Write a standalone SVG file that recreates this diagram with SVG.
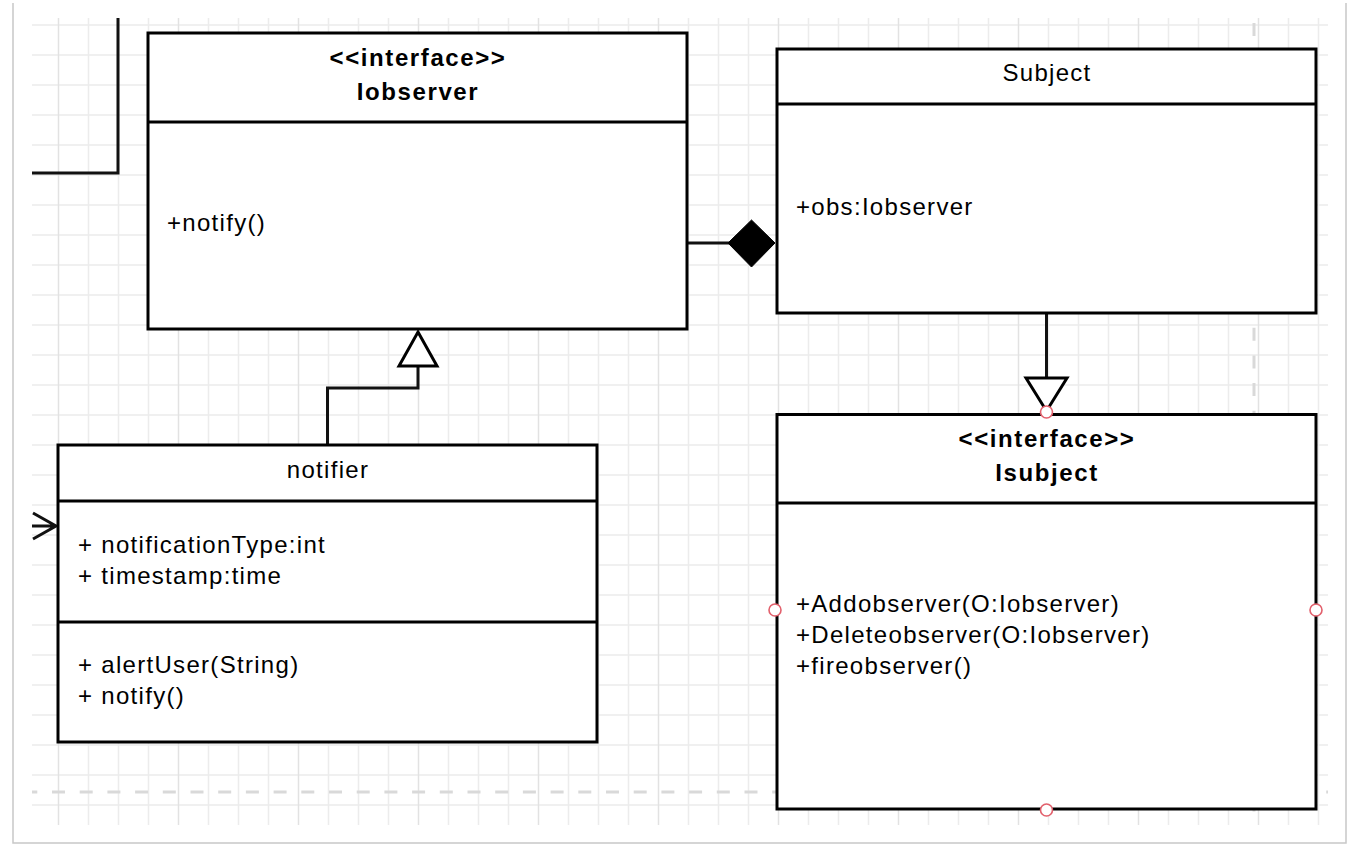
<svg xmlns="http://www.w3.org/2000/svg" width="1355" height="844" viewBox="0 0 1355 844">
  <style>
    .grid { stroke: #ececec; stroke-width: 1.5; fill: none; }
    .grid-major { stroke: #e2e2e2; stroke-width: 1.5; fill: none; }
    .guide { stroke: #d9d9d9; stroke-width: 3; fill: none; stroke-dasharray: 13 14.7; }
    .frame { stroke: #c8c8c8; stroke-width: 1.5; fill: none; }
    .box { fill: #ffffff; stroke: #000000; stroke-width: 3; }
    .sep { stroke: #000000; stroke-width: 3; }
    .edge { stroke: #111111; stroke-width: 3; fill: none; }
    .hollow { fill: #ffffff; stroke: #000000; stroke-width: 3; stroke-linejoin: miter; }
    .solid { fill: #000000; stroke: #000000; stroke-width: 1; }
    .port { fill: #ffffff; stroke: #e2606c; stroke-width: 1.6; }
    text { font-family: "Liberation Sans", Arial, sans-serif; font-size: 24px; fill: #000000; letter-spacing: 1.3px; }
    .title { font-weight: bold; letter-spacing: 1.6px; text-anchor: middle; }
    .name { text-anchor: middle; }
  </style>

  <rect x="0" y="0" width="1355" height="844" fill="#ffffff"/>

  <!-- page frame -->
  <path class="frame" d="M13 3 V843 H1346 V3"/>

  <!-- background grid -->
  <g id="grid">
    <path class="grid" d="M32 25 H1328 M32 55 H1328 M32 85 H1328 M32 115 H1328 M32 145 H1328 M32 175 H1328 M32 205 H1328 M32 235 H1328 M32 265 H1328 M32 295 H1328 M32 325 H1328 M32 355 H1328 M32 385 H1328 M32 415 H1328 M32 445 H1328 M32 475 H1328 M32 505 H1328 M32 535 H1328 M32 565 H1328 M32 595 H1328 M32 625 H1328 M32 655 H1328 M32 685 H1328 M32 715 H1328 M32 745 H1328 M32 775 H1328 M32 805 H1328"/>
    <path class="grid" d="M88.5 18 V825 M118.5 18 V825 M148.5 18 V825 M208.5 18 V825 M238.5 18 V825 M268.5 18 V825 M328.5 18 V825 M358.5 18 V825 M388.5 18 V825 M448.5 18 V825 M478.5 18 V825 M508.5 18 V825 M568.5 18 V825 M598.5 18 V825 M628.5 18 V825 M688.5 18 V825 M718.5 18 V825 M748.5 18 V825 M808.5 18 V825 M838.5 18 V825 M868.5 18 V825 M928.5 18 V825 M958.5 18 V825 M988.5 18 V825 M1048.5 18 V825 M1078.5 18 V825 M1108.5 18 V825 M1168.5 18 V825 M1198.5 18 V825 M1228.5 18 V825 M1288.5 18 V825 M1318.5 18 V825"/>
    <path class="grid-major" d="M58.5 18 V825 M178.5 18 V825 M298.5 18 V825 M418.5 18 V825 M538.5 18 V825 M658.5 18 V825 M778.5 18 V825 M898.5 18 V825 M1018.5 18 V825 M1138.5 18 V825 M1258.5 18 V825"/>
    <!-- page break guides -->
    <path class="guide" d="M1254 23 V825"/>
    <path class="guide" style="stroke-dashoffset:7.7" d="M32 792 H1328"/>
  </g>

  <!-- connectors -->
  <g id="connectors">
    <!-- incoming line at top left -->
    <path class="edge" d="M32 173 H118 V18"/>
    <!-- incoming association with open arrow into notifier -->
    <path class="edge" d="M32 526 H56 M33 513 L56 526 L33 539"/>
    <!-- composition: Subject owns Iobserver -->
    <path class="edge" d="M687 243 H729"/>
    <polygon class="solid" points="728,243 751.5,220 775,243 751.5,267"/>
    <!-- realization: notifier implements Iobserver -->
    <path class="edge" d="M327.5 445 V388 H418 V366"/>
    <polygon class="hollow" points="418,332 437,366 399,366"/>
    <!-- realization: Subject implements Isubject -->
    <path class="edge" d="M1046.5 313 V378"/>
    <polygon class="hollow" points="1026,378 1067,378 1046.5,411"/>
  </g>

  <!-- Iobserver interface -->
  <g id="iobserver">
    <rect class="box" x="148" y="33" width="539" height="296"/>
    <line class="sep" x1="148" y1="122" x2="687" y2="122"/>
    <text class="title" x="418" y="66">&lt;&lt;interface&gt;&gt;</text>
    <text class="title" x="418" y="100">Iobserver</text>
    <text x="167" y="231">+notify()</text>
  </g>

  <!-- Subject class -->
  <g id="subject">
    <rect class="box" x="777" y="49" width="539" height="264"/>
    <line class="sep" x1="777" y1="104" x2="1316" y2="104"/>
    <text class="name" x="1047" y="81">Subject</text>
    <text x="796" y="215">+obs:Iobserver</text>
  </g>

  <!-- notifier class -->
  <g id="notifier">
    <rect class="box" x="58" y="445" width="539" height="297"/>
    <line class="sep" x1="58" y1="501" x2="597" y2="501"/>
    <line class="sep" x1="58" y1="622" x2="597" y2="622"/>
    <text class="name" x="328" y="478">notifier</text>
    <text x="78" y="553">+ notificationType:int</text>
    <text x="78" y="584">+ timestamp:time</text>
    <text x="78" y="673">+ alertUser(String)</text>
    <text x="78" y="704">+ notify()</text>
  </g>

  <!-- Isubject interface -->
  <g id="isubject">
    <rect class="box" x="777" y="414.5" width="539" height="394.5"/>
    <line class="sep" x1="777" y1="503" x2="1316" y2="503"/>
    <text class="title" x="1047" y="447">&lt;&lt;interface&gt;&gt;</text>
    <text class="title" x="1047" y="481">Isubject</text>
    <text x="796" y="612">+Addobserver(O:Iobserver)</text>
    <text x="796" y="643">+Deleteobserver(O:Iobserver)</text>
    <text x="796" y="674">+fireobserver()</text>
    <!-- connection points -->
    <circle class="port" cx="1046.5" cy="412" r="6"/>
    <circle class="port" cx="775" cy="610" r="6"/>
    <circle class="port" cx="1316" cy="610" r="6"/>
    <circle class="port" cx="1046.5" cy="810" r="6"/>
  </g>
</svg>
